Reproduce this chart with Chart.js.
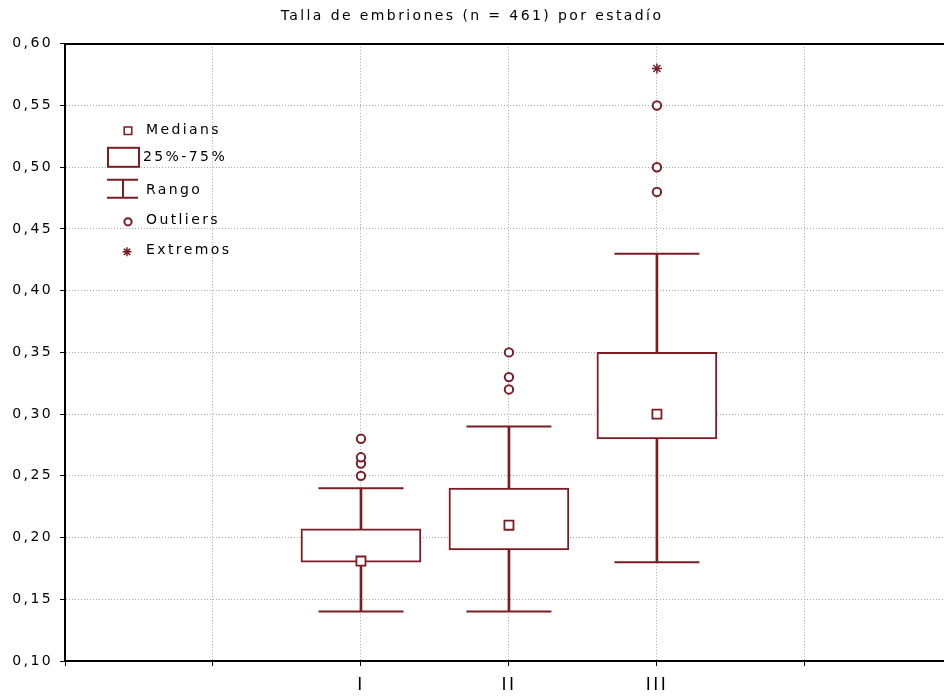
<!DOCTYPE html>
<html>
<head>
<meta charset="utf-8">
<title>Talla de embriones por estadío</title>
<script src="https://cdn.jsdelivr.net/npm/chart.js@4"></script>
<style>
  html, body { margin: 0; padding: 0; background: #fff; overflow: hidden; }
  canvas { display: block; }
</style>
</head>
<body>
<canvas id="boxChart" width="944" height="696"></canvas>
<script>
// stages (x positions on a 0..6 slot axis, only 2-4 carry a label)
const stages = ["I", "II", "III"];
const stagePos = [2, 3, 4];
const xMax = 5.94;

// box plot statistics
const whiskerLow = [0.14, 0.14, 0.18];
const whiskerHigh = [0.24, 0.29, 0.43];
const q1 = [0.18, 0.19, 0.28];
const q3 = [0.207, 0.24, 0.35];
const medians = [0.181, 0.21, 0.30];
const outliers = [
	[0.25, 0.26, 0.265, 0.28],
	[0.32, 0.33, 0.35],
	[0.48, 0.50, 0.55],
];
const extremes = [[], [], [0.58]];

const yMin = 0.10;
const yMax = 0.60;
const yStep = 0.05;

const titleText = "Talla de embriones (n = 461) por estadío";
const FONT = "'DejaVu Sans', 'Liberation Sans', sans-serif";
const RED = "#7a1e24";
const INK = "#000";
const SPACING = "2.4px";

const boxData = stagePos.map((x, i) => ({ x, y: [q1[i], q3[i]] }));
const whiskerData = stagePos.map((x, i) => ({ x, y: [whiskerLow[i], whiskerHigh[i]] }));
const capData = stagePos.flatMap((x, i) => [
	{ x, y: whiskerLow[i] },
	{ x, y: whiskerHigh[i] },
]);
const medianData = stagePos.map((x, i) => ({ x, y: medians[i] }));
const outlierData = stagePos.flatMap((x, i) => outliers[i].map((y) => ({ x, y })));
const extremeData = stagePos.flatMap((x, i) => extremes[i].map((y) => ({ x, y })));

// wide letter spacing like the original bitmap font
const spacingPlugin = {
	id: "spacing",
	beforeUpdate(chart) { chart.ctx.letterSpacing = SPACING; },
	beforeLayout(chart) { chart.ctx.letterSpacing = SPACING; },
	beforeDraw(chart) { chart.ctx.letterSpacing = SPACING; },
};

// legend drawn inside the plot, top-left
const boxLegend = {
	id: "boxLegend",
	afterDraw(chart) {
		const { ctx, chartArea } = chart;
		const L = chartArea.left;
		const T = chartArea.top;
		const ds = chart.data.datasets;
		const byLabel = (name) => ds.find((d) => d.label === name);
		ctx.save();
		ctx.letterSpacing = SPACING;
		ctx.font = "14px " + FONT;
		ctx.textBaseline = "middle";
		ctx.textAlign = "left";

		ctx.strokeStyle = RED;
		ctx.fillStyle = "#fff";
		ctx.lineWidth = 1.6;
		Chart.helpers.drawPoint(ctx, { pointStyle: "rect", radius: 5.3, rotation: 0, borderWidth: 1.6 }, L + 63, T + 87);
		ctx.fillStyle = INK;
		ctx.fillText(byLabel("Medians").label, L + 81, T + 87);

		ctx.lineWidth = 2;
		ctx.strokeRect(L + 43, T + 104, 31, 19);
		ctx.fillText(byLabel("25%-75%").label, L + 78, T + 114);

		ctx.beginPath();
		ctx.moveTo(L + 42, T + 136); ctx.lineTo(L + 73, T + 136);
		ctx.moveTo(L + 42, T + 154); ctx.lineTo(L + 73, T + 154);
		ctx.moveTo(L + 58, T + 136); ctx.lineTo(L + 58, T + 154);
		ctx.stroke();
		ctx.fillText(byLabel("Rango").label, L + 81, T + 147);

		ctx.fillStyle = "#fff";
		ctx.lineWidth = 2;
		Chart.helpers.drawPoint(ctx, { pointStyle: "circle", radius: 3.6, rotation: 0, borderWidth: 2 }, L + 63, T + 178);
		ctx.fillStyle = INK;
		ctx.fillText(byLabel("Outliers").label, L + 81, T + 177);

		ctx.lineWidth = 1.5;
		Chart.helpers.drawPoint(ctx, { pointStyle: "star", radius: 4.5, rotation: 0, borderWidth: 1.5 }, L + 62, T + 208);
		ctx.fillText(byLabel("Extremos").label, L + 81, T + 207);
		ctx.restore();
	},
};

const ctx = document.getElementById("boxChart").getContext("2d");
new Chart(ctx, {
	type: "bar",
	data: {
		datasets: [
			{
				type: "scatter",
				label: "Medians",
				data: medianData,
				pointStyle: "rect",
				radius: 6.4,
				backgroundColor: "#fff",
				borderColor: RED,
				borderWidth: 1.8,
				order: 0,
			},
			{
				type: "scatter",
				label: "Outliers",
				data: outlierData,
				pointStyle: "circle",
				radius: 4.2,
				backgroundColor: "#fff",
				borderColor: RED,
				borderWidth: 2,
				order: 0,
			},
			{
				type: "scatter",
				label: "Extremos",
				data: extremeData,
				pointStyle: "star",
				radius: 5,
				backgroundColor: RED,
				borderColor: RED,
				borderWidth: 1.5,
				order: 0,
			},
			{
				type: "scatter",
				label: "caps",
				data: capData,
				pointStyle: "line",
				radius: 42.5,
				borderColor: RED,
				borderWidth: 2,
				order: 1,
			},
			{
				label: "25%-75%",
				data: boxData,
				grouped: false,
				barThickness: 120,
				backgroundColor: "#fff",
				borderColor: RED,
				borderWidth: 2,
				borderSkipped: false,
				order: 2,
			},
			{
				label: "Rango",
				data: whiskerData,
				grouped: false,
				barThickness: 2,
				backgroundColor: RED,
				borderWidth: 0,
				order: 3,
			},
		],
	},
	options: {
		responsive: false,
		animation: false,
		events: [],
		layout: { padding: 0, autoPadding: false },
		scales: {
			x: {
				type: "linear",
				min: 0,
				max: xMax,
				bounds: "data",
				offset: false,
				border: { display: true, color: "#000", width: 2, dash: [1, 2] },
				grid: {
					offset: false,
					color: "#a8a8a8",
					lineWidth: 1,
					tickColor: "#000",
					tickLength: 5,
					tickBorderDash: [],
				},
				afterBuildTicks: (scale) => {
					scale.ticks = scale.ticks.filter((t) => Number.isInteger(t.value) && t.value <= xMax);
				},
				afterFit: (scale) => {
					scale.height = 35;
				},
				ticks: {
					stepSize: 1,
					maxRotation: 0,
					autoSkip: false,
					padding: 9,
					color: INK,
					font: { family: FONT, size: 17 },
					callback: (v) => {
						const i = stagePos.indexOf(v);
						return i >= 0 ? stages[i] : "";
					},
				},
			},
			x2: {
				type: "linear",
				position: "top",
				min: 0,
				max: xMax,
				bounds: "data",
				border: { display: true, color: "#000", width: 2 },
				grid: { display: false, drawTicks: false },
				ticks: { display: false },
			},
			y: {
				min: yMin,
				max: yMax,
				border: { display: true, color: "#000", width: 2, dash: [1, 2] },
				grid: {
					color: "#a8a8a8",
					lineWidth: 1,
					tickColor: "#000",
					tickLength: 5,
					tickBorderDash: [],
				},
				ticks: {
					stepSize: yStep,
					padding: 7,
					color: INK,
					font: { family: FONT, size: 14 },
					callback: (v) => v.toFixed(2).replace(".", ","),
				},
				afterFit: (scale) => {
					scale.width = 65;
				},
			},
		},
		plugins: {
			legend: { display: false },
			tooltip: { enabled: false },
			title: {
				display: true,
				text: titleText,
				color: INK,
				font: { family: FONT, size: 14, weight: "normal" },
				padding: { top: 8, bottom: 19 },
			},
		},
	},
	plugins: [spacingPlugin, boxLegend],
});
</script>
</body>
</html>
